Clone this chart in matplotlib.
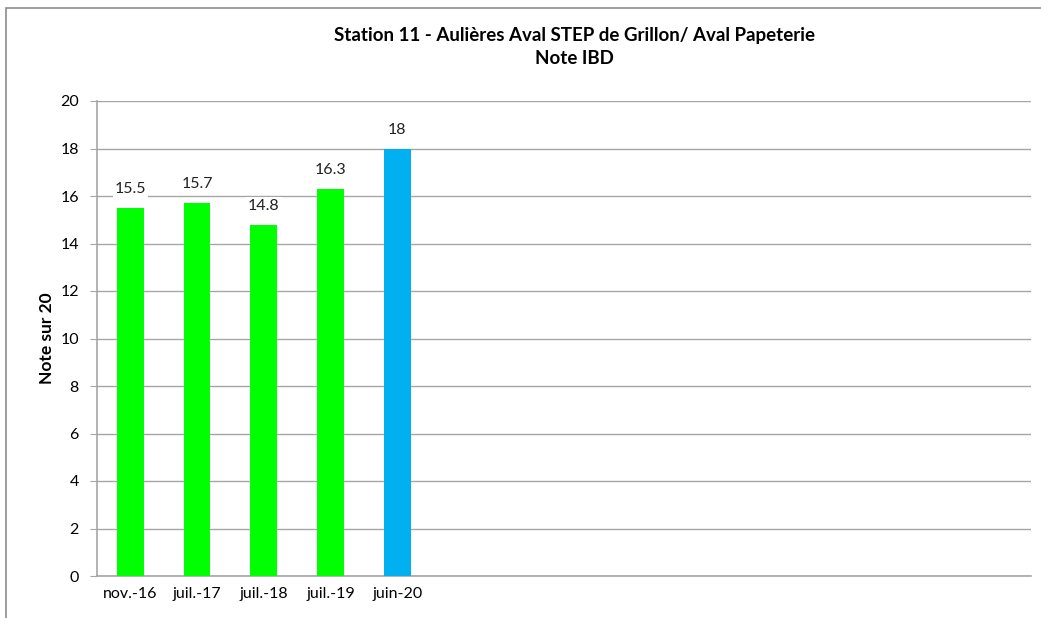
import matplotlib
matplotlib.use("Agg")
import matplotlib.pyplot as plt
from matplotlib.patches import Rectangle

# --- data ---
dates = ["nov.-16", "juil.-17", "juil.-18", "juil.-19", "juin-20"]
notes = [15.5, 15.7, 14.8, 16.3, 18]
colors = ["#00FF00", "#00FF00", "#00FF00", "#00FF00", "#00B0F0"]
n_slots = 14  # empty categories kept on the axis, as in the Excel sheet
labels = dates + [""] * (n_slots - len(dates))

plt.rcParams["font.family"] = ["Lato", "DejaVu Sans"]

fig = plt.figure(figsize=(10.41, 6.18), dpi=100)
fig.patches.append(Rectangle((6 / 1041, -0.1), 1.2, 1 - 8 / 618 + 0.1,
                             transform=fig.transFigure, fill=False,
                             edgecolor="#8c8c8c", linewidth=1.2))

ax = fig.add_axes([97 / 1041, 1 - 576 / 618, (1031 - 97) / 1041, (576 - 101) / 618])

x = list(range(n_slots))
ax.bar(x[:len(notes)], notes, width=0.4, color=colors, zorder=3)

for xi, v in zip(x, notes):
    txt = f"{v:g}"
    ax.text(xi, v + 0.5, txt, ha="center", va="bottom", fontsize=11.5,
            color="#222222", zorder=4,
            bbox=dict(facecolor="white", edgecolor="none", pad=1.5))

ax.set_xlim(-0.5, n_slots - 0.5)
ax.set_ylim(0, 20)
ax.set_yticks(range(0, 21, 2))
ax.set_xticks(x)
ax.set_xticklabels(labels)
ax.grid(axis="y", color="#a6a6a6", linewidth=1, zorder=0)
ax.set_axisbelow(True)

for side in ["top", "right"]:
    ax.spines[side].set_visible(False)
for side in ["left", "bottom"]:
    ax.spines[side].set_color("#a6a6a6")
    ax.spines[side].set_linewidth(1.2)

ax.tick_params(axis="y", length=5, color="#a6a6a6", labelsize=11.5, pad=8)
ax.tick_params(axis="x", length=0, labelsize=11.5, pad=8)

ax.set_ylabel("Note sur 20", fontsize=12.5, fontweight="bold", labelpad=4)

title_x = 574 / 1041
fig.text(title_x, 1 - 35 / 618, "Station 11 - Aulières Aval STEP de Grillon/ Aval Papeterie",
         ha="center", va="center", fontsize=13.5, fontweight="bold")
fig.text(title_x, 1 - 59 / 618, "Note IBD",
         ha="center", va="center", fontsize=13.5, fontweight="bold")

fig.savefig("out.png", dpi=100)
